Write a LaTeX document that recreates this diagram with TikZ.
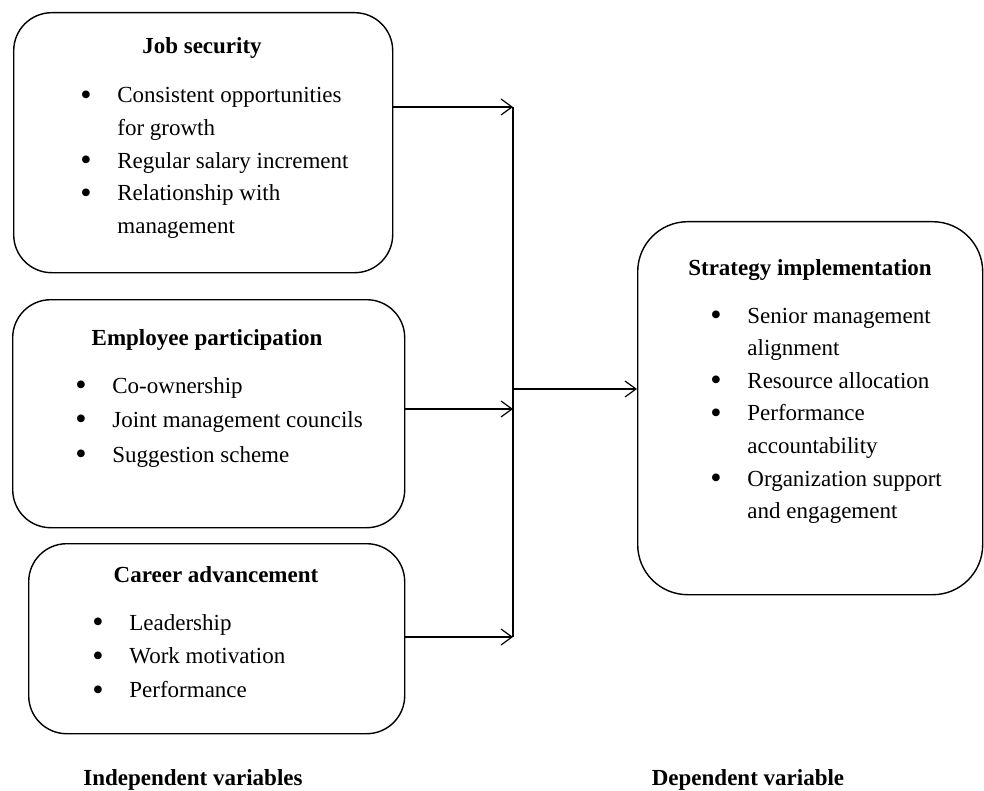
\documentclass[tikz,border=0pt]{standalone}
\usepackage{fontspec}
\setmainfont{Liberation Serif}
\usetikzlibrary{arrows.meta}
\newcommand{\bul}{\raisebox{-.1em}{\scalebox{1.4}{\textbullet}}}
\begin{document}
\begin{tikzpicture}[x=.5pt,y=-.5pt,
	box/.style={draw,line width=.7pt,rounded corners=19pt,inner sep=0pt,anchor=north west},
	ttl/.style={font=\fontsize{11.5}{16.3}\selectfont\bfseries,inner sep=0pt},
	lst/.style={font=\fontsize{11.5}{16.3}\selectfont,anchor=base west,inner sep=0pt},
	flow/.style={line width=.6pt,-{Straight Barb[length=5.5pt,width=8pt]}}]
	\useasboundingbox (0,0) rectangle (984,791);
	% independent variables
	\node[box,minimum width=189.5pt,minimum height=130pt](jobsec) at (13,12){};
	\node[box,minimum width=196pt,minimum height=114pt](emppart) at (12,299){};
	\node[box,minimum width=188pt,minimum height=95pt](career) at (28,543){};
	% dependent variable
	\node[box,rounded corners=25pt,minimum width=172.5pt,minimum height=186.5pt](strategy) at (637,221){};
	\node[ttl](jobsec title) at (202,48){Job security};
	\node[ttl](emppart title) at (207,340){Employee participation};
	\node[ttl](career title) at (216,575){Career advancement};
	\node[ttl](strategy title) at (810,270){Strategy implementation};
	\node[lst](jobsec list) at (80,103){\begin{tabular}[t]{@{}p{18.5pt}@{}l@{}}
		\bul & Consistent opportunities\\ & for growth\\
		\bul & Regular salary increment\\
		\bul & Relationship with\\ & management\end{tabular}};
	\node[lst](emppart list) at (75,393){\renewcommand{\arraystretch}{1.06}\begin{tabular}[t]{@{}p{18.5pt}@{}l@{}}
		\bul & Co-ownership\\
		\bul & Joint management councils\\
		\bul & Suggestion scheme\end{tabular}};
	\node[lst](career list) at (92,630){\renewcommand{\arraystretch}{1.04}\begin{tabular}[t]{@{}p{18.5pt}@{}l@{}}
		\bul & Leadership\\
		\bul & Work motivation\\
		\bul & Performance\end{tabular}};
	\node[lst](strategy list) at (710,323){\begin{tabular}[t]{@{}p{18.5pt}@{}l@{}}
		\bul & Senior management\\ & alignment\\
		\bul & Resource allocation\\
		\bul & Performance\\ & accountability\\
		\bul & Organization support\\ & and engagement\end{tabular}};
	% connectors
	\coordinate (bus top) at (513,107);
	\coordinate (bus mid) at (513,409);
	\coordinate (bus bot) at (513,637);
	\coordinate (fork) at (513,389);
	\draw[line width=.6pt](bus top)--(bus bot);
	\foreach \b/\c in {jobsec/bus top,emppart/bus mid,career/bus bot}\draw[flow](\b.east|-\c)--(\c);
	\draw[flow](fork)--(fork-|strategy.west);
	\node[ttl](indep) at (193,780){Independent variables};
	\node[ttl](dep) at (748,780){Dependent variable};
\end{tikzpicture}
\end{document}
